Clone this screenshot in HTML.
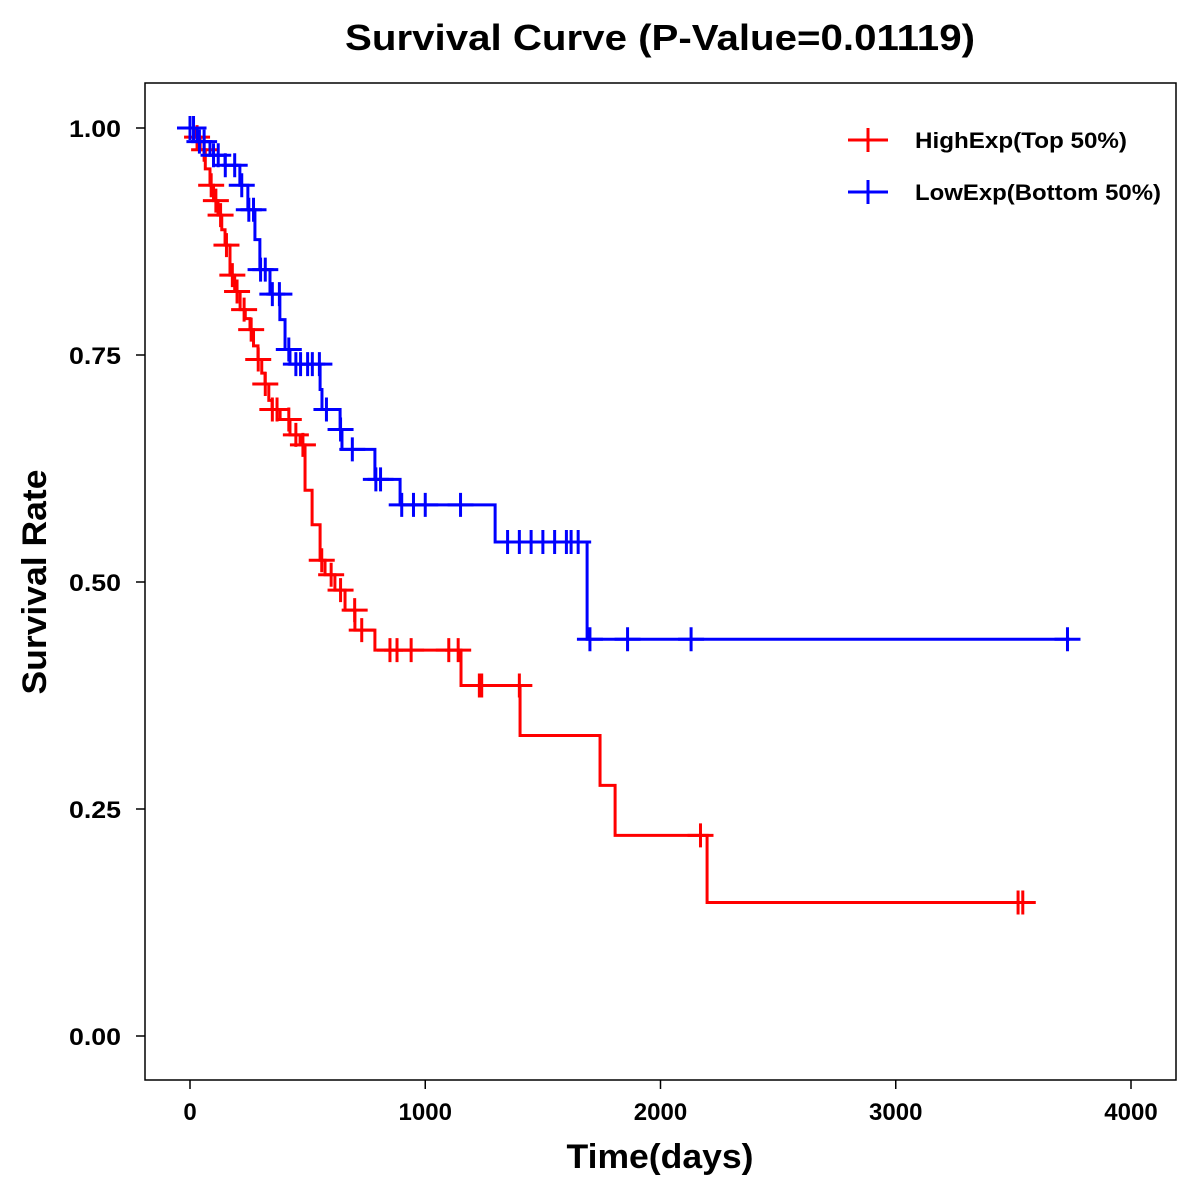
<!DOCTYPE html>
<html><head><meta charset="utf-8"><style>
html,body{margin:0;padding:0;background:#fff;}
svg{display:block;font-family:"Liberation Sans",Arial,sans-serif;}
</style></head><body>
<svg id="chart" width="1200" height="1200" viewBox="0 0 1200 1200">
<text x="660" y="50" text-anchor="middle" font-size="36" font-weight="bold" textLength="630" lengthAdjust="spacingAndGlyphs">Survival Curve (P-Value=0.01119)</text>
<rect x="145" y="83" width="1031" height="997" fill="none" stroke="#000" stroke-width="1.5"/>
<g id="axes"></g>
<g id="series"></g>
<text x="660" y="1168" text-anchor="middle" font-size="34" font-weight="bold" textLength="187" lengthAdjust="spacingAndGlyphs">Time(days)</text>
<text transform="translate(46,582) rotate(-90)" text-anchor="middle" font-size="34" font-weight="bold" textLength="225" lengthAdjust="spacingAndGlyphs">Survival Rate</text>
<g>
<g>
<line x1="848" y1="140" x2="888" y2="140" stroke="#f00" stroke-width="3"/>
<line x1="868" y1="128" x2="868" y2="152" stroke="#f00" stroke-width="3"/>
<text x="915" y="148" font-size="22" font-weight="bold" textLength="212" lengthAdjust="spacingAndGlyphs">HighExp(Top 50%)</text>
</g>
<g>
<line x1="848" y1="192" x2="888" y2="192" stroke="#00f" stroke-width="3"/>
<line x1="868" y1="180" x2="868" y2="204" stroke="#00f" stroke-width="3"/>
<text x="915" y="200" font-size="22" font-weight="bold" textLength="246" lengthAdjust="spacingAndGlyphs">LowExp(Bottom 50%)</text>
</g>
</g>
</svg>
<script>
const xTicks = [0, 1000, 2000, 3000, 4000];
const yTicks = [0, 0.25, 0.5, 0.75, 1.0];
const yTickLabels = ["0.00", "0.25", "0.50", "0.75", "1.00"];
const highTimes = [0,20,43,65,85,100,119,135,149,170,190,213,235,255,270,289,305,319,335,349,383,425,468,489,519,553,574,616,659,701,786,1152,1403,1743,1807,2198];
const highSurv  = [1.0,0.99,0.976,0.955,0.937,0.92,0.904,0.888,0.871,0.838,0.82,0.800,0.79,0.778,0.76,0.745,0.73,0.718,0.70,0.690,0.679,0.662,0.651,0.601,0.563,0.524,0.508,0.491,0.469,0.447,0.425,0.386,0.331,0.276,0.221,0.147];
const highEnd = 3570;
const highCensor = [30,60,90,110,130,155,180,200,230,260,290,320,350,370,420,450,480,560,600,640,700,730,850,880,940,1100,1140,1230,1240,1400,2170,3520,3540];
const lowTimes = [0,30,85,149,212,246,276,297,340,382,404,425,553,561,638,646,786,893,1297,1688];
const lowSurv  = [1.0,0.985,0.970,0.959,0.937,0.910,0.877,0.844,0.817,0.789,0.756,0.740,0.712,0.690,0.668,0.646,0.613,0.585,0.544,0.437];
const lowEnd = 3740;
const lowCensor = [0,15,40,60,100,120,150,190,220,250,270,300,320,350,380,420,450,470,500,520,550,580,640,690,790,810,900,950,1000,1150,1350,1400,1450,1500,1550,1600,1620,1650,1700,1860,2130,3730];

const NS = "http://www.w3.org/2000/svg";
const xs = t => 190 + t * 0.23525;
const ys = s => 1036 - s * 908;
function mk(tag, attrs, parent){const e=document.createElementNS(NS,tag);for(const k in attrs)e.setAttribute(k,attrs[k]);parent.appendChild(e);return e;}

const axes = document.getElementById('axes');
xTicks.forEach(t=>{
  const g = mk('g',{},axes);
  
  
  mk('line',{x1:xs(t),y1:1080,x2:xs(t),y2:1089,stroke:'#000','stroke-width':1.5},g);
  const tx = mk('text',{x:xs(t),y:1120,'text-anchor':'middle','font-size':24,'font-weight':'bold'},g);
  tx.textContent = t;
});
yTicks.forEach((v,i)=>{
  const g = mk('g',{},axes);
  
  
  mk('line',{x1:136,y1:ys(v),x2:145,y2:ys(v),stroke:'#000','stroke-width':1.5},g);
  const tx = mk('text',{x:121,y:ys(v)+9,'text-anchor':'end','font-size':24,'font-weight':'bold','textLength':52,'lengthAdjust':'spacingAndGlyphs'},g);
  tx.textContent = yTickLabels[i];
});

function survAt(times, surv, t){let s=surv[0];for(let i=0;i<times.length;i++){if(times[i]<=t)s=surv[i];}return s;}
function drawSeries(times, surv, end, censor, color, name){
  const g = mk('g',{},document.getElementById('series'));
  
  
  let d = 'M'+xs(times[0])+','+ys(surv[0]);
  for(let i=1;i<times.length;i++){d+=' H'+xs(times[i])+' V'+ys(surv[i]);}
  d += ' H'+xs(end);
  const p = mk('path',{d:d,fill:'none',stroke:color,'stroke-width':3},g);
  
  
  censor.forEach(t=>{
    const cx = xs(t), cy = ys(survAt(times,surv,t));
    const c = mk('path',{d:'M'+(cx-13)+','+cy+' H'+(cx+13)+' M'+cx+','+(cy-12)+' V'+(cy+12),stroke:color,'stroke-width':3,fill:'none'},g);
    
    
  });
}
drawSeries(highTimes, highSurv, highEnd, highCensor, '#f00', 'high-exp-curve');
drawSeries(lowTimes, lowSurv, lowEnd, lowCensor, '#00f', 'low-exp-curve');
</script>
</body></html>
